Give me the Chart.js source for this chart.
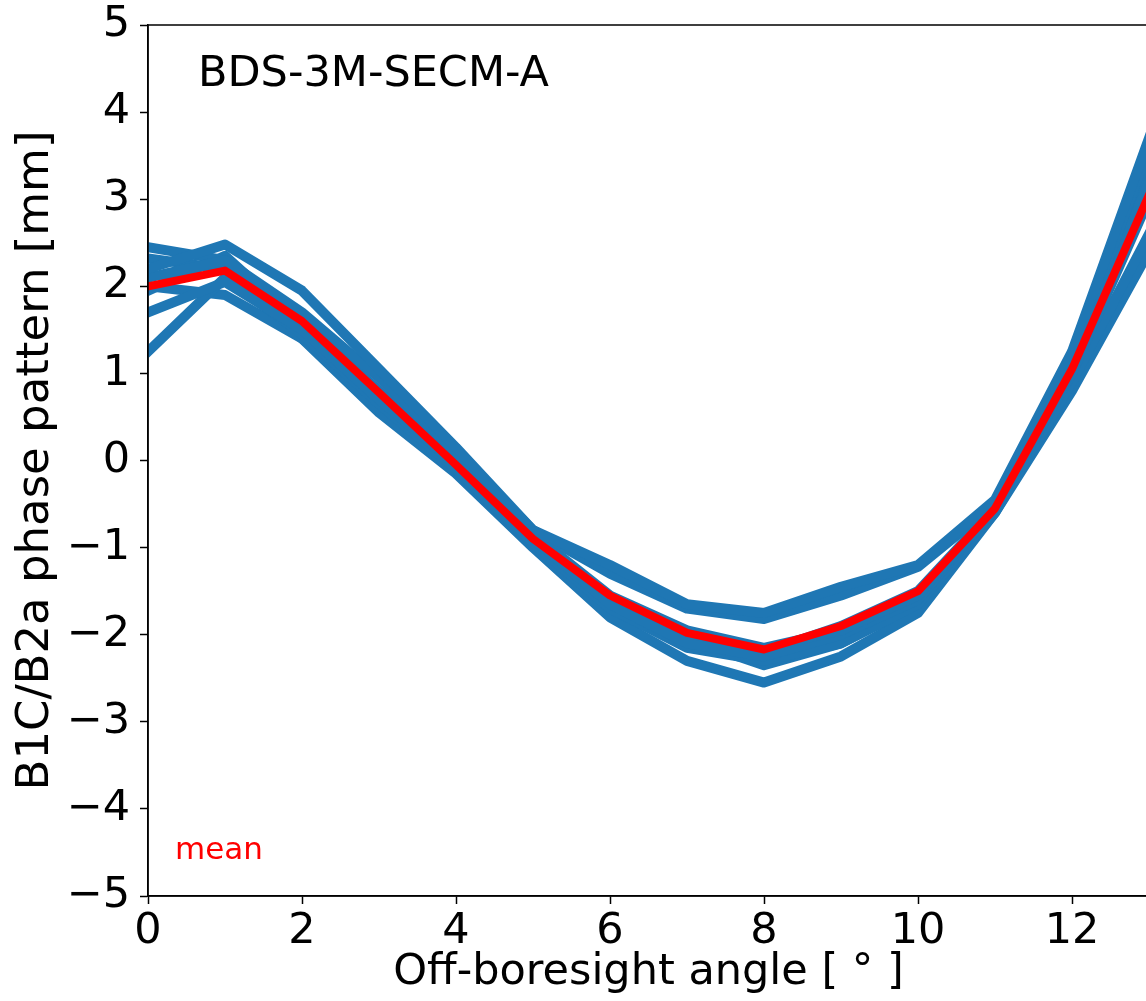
<!DOCTYPE html>
<html>
<head>
<meta charset="utf-8">
<script src="https://cdn.jsdelivr.net/npm/chart.js@4.4.0/dist/chart.umd.min.js"></script>
<style>
  html, body { margin: 0; padding: 0; background: #fff; overflow: hidden; }
  #wrap { position: absolute; left: 0; top: 0; width: 1150px; height: 1001px; }
</style>
</head>
<body>
<div id="wrap"><canvas id="c" width="1150" height="1001"></canvas></div>
<script>
// ---- data ----
const angles = [0, 1, 2, 3, 4, 5, 6, 7, 8, 9, 10, 11, 12, 13];
const satA = [2.20, 2.48, 1.95, 1.05, 0.15, -0.80, -1.20, -1.65, -1.75, -1.45, -1.20, -0.45, 1.25, 3.70];
const satB = [2.10, 2.30, 1.70, 0.95, 0.10, -0.80, -1.30, -1.70, -1.82, -1.55, -1.22, -0.50, 1.15, 3.60];
const satC = [2.45, 2.30, 1.60, 0.80, 0.00, -0.85, -1.55, -1.95, -2.15, -1.95, -1.55, -0.55, 1.05, 3.20];
const satD = [1.70, 2.05, 1.50, 0.70, -0.05, -0.90, -1.65, -2.10, -2.25, -2.00, -1.60, -0.55, 1.00, 3.00];
const satE = [1.25, 2.10, 1.45, 0.65, -0.10, -0.95, -1.70, -2.15, -2.30, -2.10, -1.65, -0.60, 0.90, 2.60];
const satF = [2.00, 1.90, 1.40, 0.55, -0.15, -1.00, -1.80, -2.30, -2.55, -2.25, -1.75, -0.60, 0.80, 2.40];
const satG = [2.32, 2.20, 1.40, 0.75, -0.05, -0.90, -1.60, -2.05, -2.35, -2.10, -1.65, -0.55, 1.00, 3.10];
const satH = [1.95, 2.35, 1.55, 0.70, -0.10, -0.95, -1.60, -2.00, -2.20, -1.90, -1.50, -0.55, 1.05, 3.30];
const meanPattern = [2.00, 2.18, 1.60, 0.78, -0.05, -0.90, -1.55, -1.98, -2.17, -1.90, -1.50, -0.55, 1.05, 3.05];
const satellites = [satA, satB, satC, satD, satE, satF, satG, satH];
const xTicks = [0, 2, 4, 6, 8, 10, 12];
const yTicks = [-5, -4, -3, -2, -1, 0, 1, 2, 3, 4, 5];
const panelLabel = "BDS-3M-SECM-A";
const meanLabel = "mean";
const xTitle = "Off-boresight angle [ ° ]";
const yTitle = "B1C/B2a phase pattern [mm]";

const FONT = "'DejaVu Sans', sans-serif";
const toPts = arr => arr.map((v, i) => ({ x: angles[i], y: v }));

const datasets = satellites.map(s => ({
  data: toPts(s),
  borderColor: '#1f77b4',
  borderWidth: 10,
  pointRadius: 0,
  borderJoinStyle: 'round',
  borderCapStyle: 'square',
  tension: 0,
  order: 2
}));
datasets.push({
  data: toPts(meanPattern),
  borderColor: '#ff0000',
  borderWidth: 8,
  pointRadius: 0,
  borderJoinStyle: 'round',
  borderCapStyle: 'square',
  tension: 0,
  order: 1
});

const annot = {
  id: 'annot',
  afterDraw(chart) {
    const { ctx, chartArea: a } = chart;
    ctx.save();
    ctx.strokeStyle = '#000';
    ctx.lineWidth = 1.5;
    ctx.strokeRect(a.left, a.top, a.right - a.left, a.bottom - a.top);
    ctx.fillStyle = '#000';
    ctx.font = '43px ' + FONT;
    ctx.textBaseline = 'middle';
    ctx.textAlign = 'left';
    ctx.fillText(panelLabel, 198, 75);
    ctx.fillStyle = '#ff0000';
    ctx.font = '31px ' + FONT;
    ctx.fillText(meanLabel, 175, 851);
    ctx.restore();
  }
};

new Chart(document.getElementById('c'), {
  type: 'line',
  data: { datasets },
  plugins: [annot],
  options: {
    responsive: false,
    animation: false,
    layout: { padding: { top: 25, right: 1, left: 0, bottom: 0 } },
    plugins: { legend: { display: false }, tooltip: { enabled: false } },
    scales: {
      x: {
        type: 'linear',
        min: 0, max: 13,
        afterBuildTicks: s => { s.ticks = xTicks.map(v => ({ value: v })); },
        afterFit: s => { s.height = 105; s.paddingLeft = 0; s.paddingRight = 0; },
        grid: { drawOnChartArea: false, tickLength: 8, tickColor: '#000', tickWidth: 1.5 },
        border: { color: '#000', width: 1.5 },
        ticks: { color: '#000', font: { family: FONT, size: 43 }, padding: 2,
                 maxRotation: 0, autoSkip: false,
                 callback: v => String(v).replace('-', '\u2212') },
        title: { display: true, text: xTitle, color: '#000',
                 font: { family: FONT, size: 43 }, padding: { top: 0, bottom: 2 } }
      },
      y: {
        type: 'linear',
        min: -5, max: 5,
        afterBuildTicks: s => { s.ticks = yTicks.map(v => ({ value: v })); },
        afterFit: s => { s.width = 148; s.paddingTop = 0; s.paddingBottom = 0; },
        grid: { drawOnChartArea: false, tickLength: 8, tickColor: '#000', tickWidth: 1.5 },
        border: { color: '#000', width: 1.5 },
        ticks: { color: '#000', font: { family: FONT, size: 43 }, padding: 10,
                 autoSkip: false,
                 callback: v => String(v).replace('-', '\u2212') },
        title: { display: true, text: yTitle, color: '#000',
                 font: { family: FONT, size: 45 }, padding: { top: 9, bottom: 0 } }
      }
    }
  }
});
</script>
</body>
</html>
